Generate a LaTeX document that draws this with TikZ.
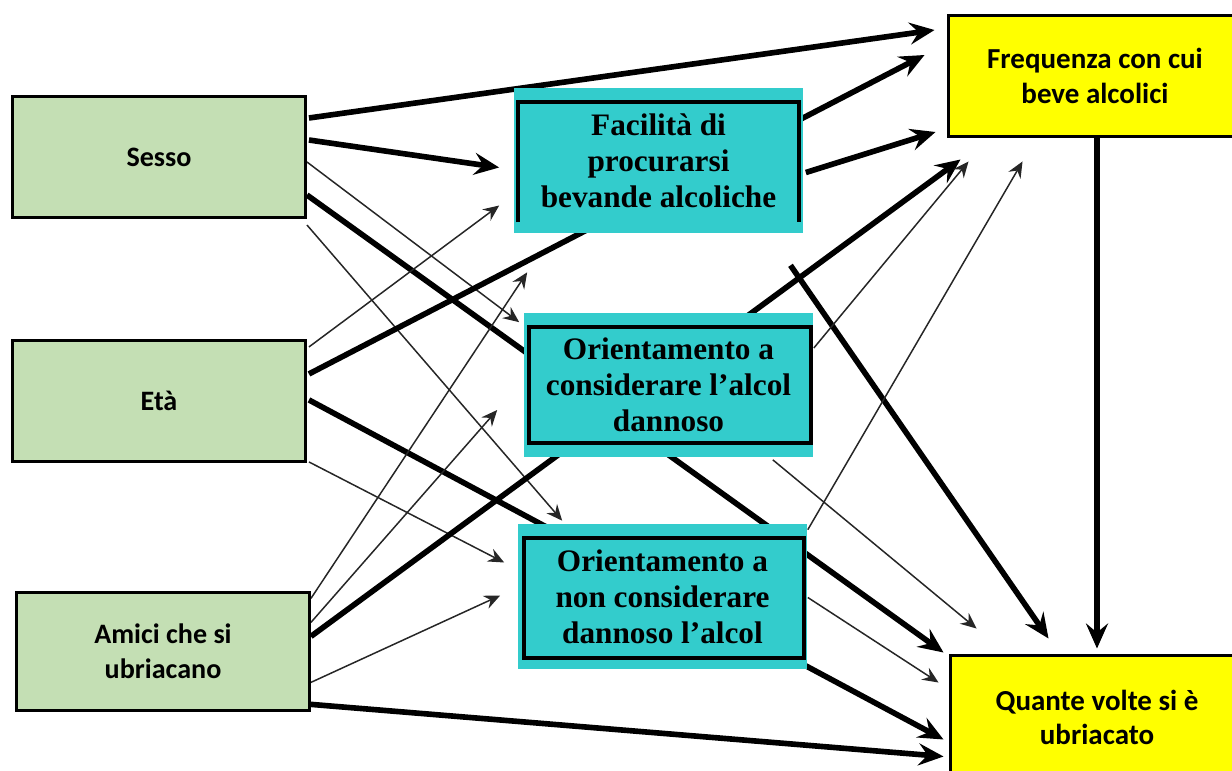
\documentclass[tikz,border=0pt]{standalone}
\usepackage{fontspec}
\setmainfont{Liberation Serif}
\newfontfamily\calibfont{Carlito}
\usepackage{tikz}
\usetikzlibrary{positioning,arrows.meta,calc,backgrounds}
\definecolor{varcolor}{RGB}{196,223,180}
\definecolor{medcolor}{RGB}{51,204,204}
\definecolor{rescolor}{RGB}{255,255,0}
\tikzset{
  var/.style={draw, line width=1.7pt, fill=varcolor, minimum width=5.86cm, minimum height=2.42cm, font=\calibfont\bfseries\fontsize{16}{19.8}\selectfont, align=center, inner sep=2pt},
  med/.style={fill=medcolor, minimum width=5.8cm, minimum height=2.9cm, font=\bfseries\fontsize{17.8}{20.6}\selectfont, align=center, inner sep=2pt},
  res/.style={draw, line width=1.7pt, fill=rescolor, minimum width=5.88cm, minimum height=2.44cm, font=\calibfont\bfseries\fontsize{16.5}{19.8}\selectfont, align=center, inner sep=2pt},
  frm/.style={line width=2.3pt},
  flow/.style={-{Stealth[length=5mm, width=4.4mm, inset=1.8mm]}, line width=3.2pt},
  wflow/.style={-{Stealth[length=3.2mm, width=2.8mm, inset=1.1mm]}, line width=0.85pt, draw=black!85},
}

\begin{document}
\begin{tikzpicture}[x=0.02cm, y=-0.02cm]
\useasboundingbox (0,0) rectangle (1232,771);
\clip (0,0) rectangle (1232,771);
\node[var] (sesso) at (159,157) {Sesso};
\node[var, below=2.4cm of sesso] (eta) {Età};
\node[var, below=2.56cm of eta, xshift=0.08cm, minimum height=2.36cm] (amici) {Amici che si\\ubriacano};
\node[med] (faci) at (658.5,160.5) {Facilità di\\procurarsi\\bevande alcoliche};
\node[med] (or1) at (668.5,385) {Orientamento a\\considerare l’alcol\\dannoso};
\node[med] (or2) at (662.5,596.5) {Orientamento a\\non considerare\\dannoso l’alcol};
\node[res] (freq) at (1095,76) {Frequenza con cui\\beve alcolici};
\node[res, minimum height=2.5cm] (quante) at (1097,717.5) {Quante volte si è\\ubriacato};
\draw[frm] ($(faci.south west)+(5,-11)$) |- ($(faci.north east)+(-5,14)$) -- ($(faci.south east)+(-5,-11)$);
\draw[frm] ($(or1.south west)+(6,-15)$) rectangle ($(or1.north east)+(-3,15)$);
\draw[frm] ($(or2.south west)+(7,-11.5)$) rectangle ($(or2.north east)+(-4,14)$);
\begin{scope}[on background layer]
\draw[flow] ($(sesso.east)+(2,-39)$) -- ($(freq.west)+(-12,-46)$);
\draw[flow] ($(sesso.east)+(2,-17)$) -- ($(faci.west)+(-14,7)$);
\draw[wflow] ($(sesso.east)+(0,5)$) -- ($(or1.north west)+(-4,10)$);
\draw[flow] ($(sesso.east)+(0,38)$) -- ($(quante.west)+(-5,-65)$);
\draw[wflow] ($(sesso.east)+(0,68)$) -- ($(or2.north west)+(45,-3)$);
\draw[wflow] ($(eta.east)+(2,-54)$) -- ($(faci.west)+(-14,45)$);
\draw[flow] ($(eta.east)+(2,-27)$) -- ($(freq.west)+(-22,-21)$);
\draw[flow] ($(eta.east)+(2,-1)$) -- ($(quante.west)+(-5,22)$);
\draw[wflow] ($(eta.east)+(2,61)$) -- ($(or2.west)+(-13,-34)$);
\draw[wflow] ($(amici.east)+(0,-53)$) -- ($(faci.south west)+(14,39)$);
\draw[wflow] ($(amici.east)+(0,-29)$) -- ($(or1.west)+(-26,25)$);
\draw[flow] ($(amici.east)+(0,-15)$) -- ($(freq.south west)+(14,21)$);
\draw[wflow] ($(amici.east)+(0,31)$) -- ($(or2.west)+(-17,-1)$);
\draw[flow] ($(amici.east)+(0,53)$) -- ($(quante.west)+(-5,39)$);
\draw[flow] ($(faci.east)+(2,12)$) -- ($(freq.west)+(-11,56)$);
\draw[flow] ($(faci.south)+(132,32)$) -- ($(quante.north west)+(100,-15)$);
\draw[flow] ($(freq.south)+(2,0)$) -- ($(quante.north)+(0,-5)$);
\draw[wflow] ($(or1.east)+(0,-37)$) -- ($(freq.south west)+(22,23)$);
\draw[wflow] ($(or1.south east)+(-41,2)$) -- ($(quante.north west)+(28,-25)$);
\draw[wflow] ($(or2.north east)+(0,6)$) -- ($(freq.south west)+(76,23)$);
\draw[wflow] ($(or2.east)+(0,1)$) -- ($(quante.west)+(-10,-35)$);
\end{scope}
\end{tikzpicture}
\end{document}
